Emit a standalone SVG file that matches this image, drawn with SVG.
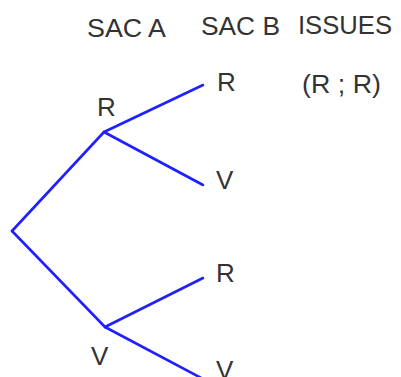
<svg xmlns="http://www.w3.org/2000/svg" width="401" height="377" viewBox="0 0 401 377">
<style>
.t{font-family:"Liberation Sans",Arial,sans-serif;font-size:26px;fill:#333}
.e{stroke:#1f1fff;stroke-width:2.6;fill:none;stroke-linecap:round}
</style>
<rect width="401" height="377" fill="#fff"/>
<g id="headers">
<text class="t" x="87" y="37" textLength="79" lengthAdjust="spacingAndGlyphs">SAC A</text>
<text class="t" x="201" y="35" textLength="79" lengthAdjust="spacingAndGlyphs">SAC B</text>
<text class="t" x="298" y="34" textLength="94" lengthAdjust="spacingAndGlyphs">ISSUES</text>
</g>
<g id="connectors">
<line class="e" x1="12" y1="231" x2="104" y2="132"/>
<line class="e" x1="12" y1="231" x2="105" y2="327"/>
<line class="e" x1="104" y1="132" x2="203" y2="85"/>
<line class="e" x1="104" y1="132" x2="203" y2="185"/>
<line class="e" x1="105" y1="327" x2="203" y2="278"/>
<line class="e" x1="105" y1="327" x2="205" y2="380"/>
</g>
<g id="nodeA_R"><text class="t" x="97" y="116">R</text></g>
<g id="nodeA_V"><text class="t" x="91" y="365">V</text></g>
<g id="nodeB_RR"><text class="t" x="217" y="91">R</text></g>
<g id="nodeB_RV"><text class="t" x="216" y="189">V</text></g>
<g id="nodeB_VR"><text class="t" x="216" y="282">R</text></g>
<g id="nodeB_VV"><text class="t" x="216" y="379">V</text></g>
<g id="issue_RR"><text class="t" x="302" y="93" textLength="79" lengthAdjust="spacingAndGlyphs">(R ; R)</text></g>
</svg>
